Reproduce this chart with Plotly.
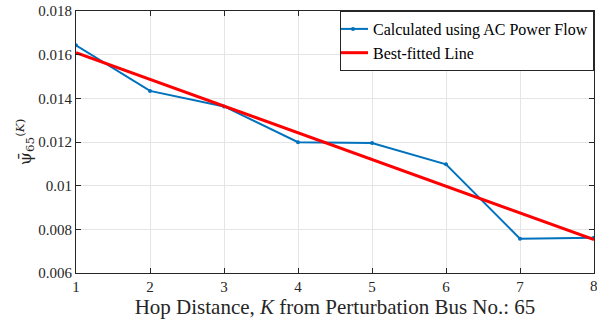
import plotly.graph_objects as go

K = [1, 2, 3, 4, 5, 6, 7, 8]
psi_ac = [0.01643, 0.01434, 0.01363, 0.01199, 0.01195, 0.01098, 0.00757, 0.00762]
fit_K = [1, 8]
fit_vals = [0.01609, 0.00753]
y_ticks = [0.006, 0.008, 0.01, 0.012, 0.014, 0.016, 0.018]
y_ticktext = ["0.006", "0.008", "0.01", "0.012", "0.014", "0.016", "0.018"]
x_ticktext = ["1", "2", "3", "4", "5", "6", "7", "8"]

font_family = "Liberation Serif"
txt_color = "#262626"

fig = go.Figure()
fig.add_trace(go.Scatter(x=K, y=psi_ac, mode="lines+markers",
                         name="Calculated using AC Power Flow",
                         line=dict(color="#0072BD", width=2),
                         marker=dict(size=4, color="#0072BD")))
fig.add_trace(go.Scatter(x=fit_K, y=fit_vals, mode="lines",
                         name="Best-fitted Line",
                         line=dict(color="#FF0000", width=3)))

axis_common = dict(showline=True, linecolor=txt_color, linewidth=1, mirror="ticks",
                   ticks="inside", ticklen=5, tickcolor=txt_color,
                   showgrid=True, gridcolor="#e5e5e5", gridwidth=1, zeroline=False,
                   tickfont=dict(family=font_family, size=15, color=txt_color))

# last x tick label sits at the figure edge; draw it as an annotation so it is not dropped
fig.update_xaxes(range=[1, 8], tickvals=K, ticktext=x_ticktext[:-1] + [""],
                 title=dict(text="Hop Distance, <i>K</i> from Perturbation Bus No.: 65",
                            font=dict(family=font_family, size=21, color=txt_color),
                            standoff=2),
                 **axis_common)
fig.add_annotation(x=K[-1], y=0, xref="x", yref="paper", text=x_ticktext[-1],
                   showarrow=False, yanchor="top", xanchor="center", yshift=-3,
                   font=dict(family=font_family, size=15, color=txt_color))
fig.update_yaxes(range=[0.006, 0.018], tickvals=y_ticks, ticktext=y_ticktext,
                 title=dict(text="ψ\u0304<sub>65</sub><sup>(<i>K</i>)</sup>",
                            font=dict(family="DejaVu Serif", size=17, color=txt_color),
                            standoff=2),
                 **axis_common)

fig.update_layout(width=597, height=323,
                  margin=dict(l=76, r=3, t=11, b=50),
                  plot_bgcolor="white", paper_bgcolor="white",
                  font=dict(family=font_family, color=txt_color),
                  legend=dict(x=1, y=1, xanchor="right", yanchor="top",
                              bgcolor="white", bordercolor=txt_color, borderwidth=1,
                              font=dict(family=font_family, size=16, color="black"),
                              itemwidth=30, tracegroupgap=0, indentation=-8))

fig.write_html("out.html")
